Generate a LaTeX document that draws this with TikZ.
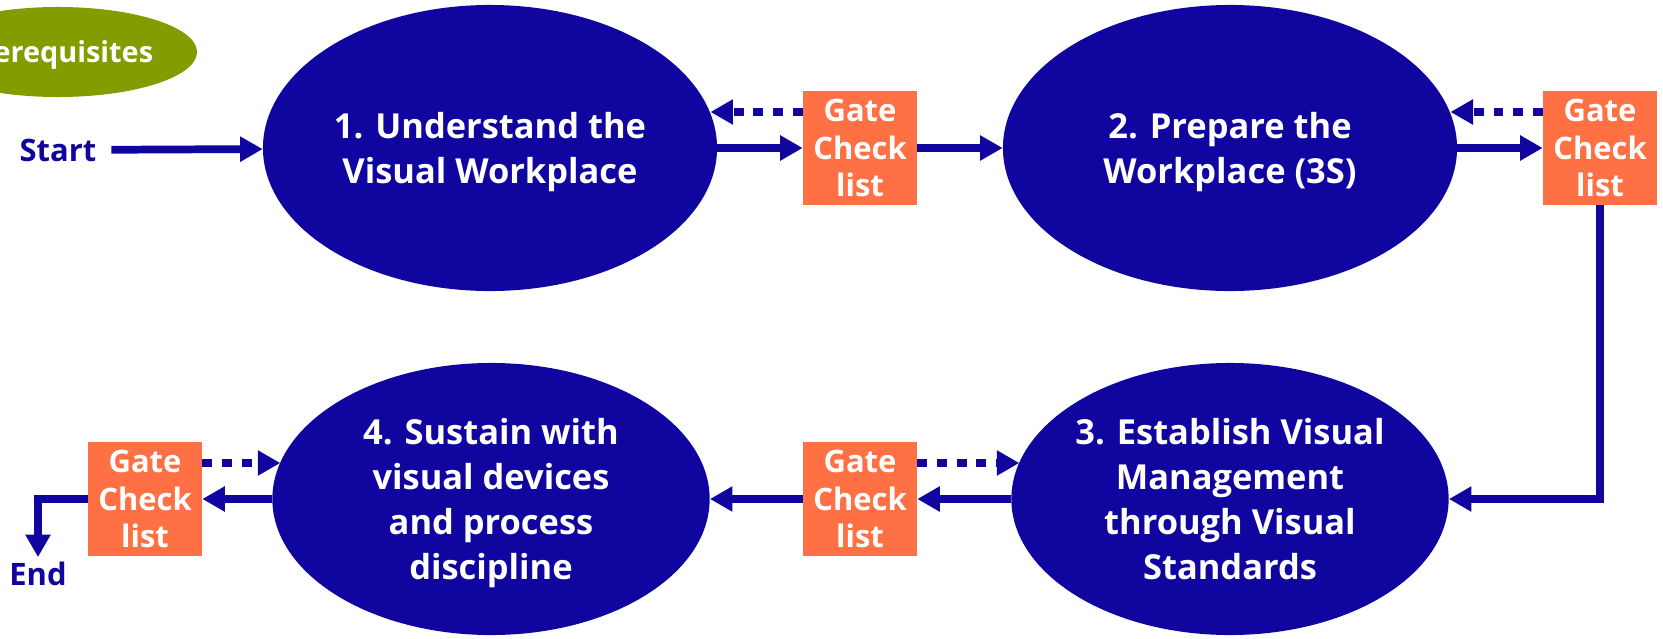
\documentclass[tikz,border=0pt]{standalone}
\usepackage{fontspec}
\setmainfont{Open Sans}
\usetikzlibrary{shapes.geometric,arrows.meta}
\definecolor{phaseblue}{HTML}{10069F}
\definecolor{gateorange}{HTML}{FF7145}
\definecolor{prereqgreen}{HTML}{849C00}
\begin{document}
\begin{tikzpicture}[x=0.025cm,y=-0.025cm,
    phase/.style={ellipse,fill=phaseblue,text=white,align=center,inner sep=0pt,text depth=0pt,
        font=\fontsize{24.5}{32}\selectfont\bfseries},
    gatebox/.style={rectangle,fill=gateorange,text=white,align=center,inner sep=0pt,
        minimum size=2.85cm,font=\fontsize{22}{26.5}\selectfont\bfseries},
    flow/.style={phaseblue,line width=5.5pt,-{Triangle[length=16pt,width=17pt]}},
    back/.style={flow,dash pattern=on 7pt off 7pt}]
        \useasboundingbox (0,0) rectangle (1663,638);
        %% Prerequisites
        \node[ellipse,fill=prereqgreen,text=white,inner sep=0pt,text depth=0pt,minimum width=6.95cm,minimum height=2.25cm,
            font=\fontsize{20.5}{24}\selectfont\bfseries] (P) at (58,52) {Prerequisites};
        %% Phases
        \node[phase,minimum width=11.35cm,minimum height=7.15cm] (E1) at (490,148) {1. Understand the\\Visual Workplace};
        \node[phase,minimum width=11.35cm,minimum height=7.15cm] (E2) at (1230,148) {2. Prepare the\\Workplace (3S)};
        \node[phase,minimum width=10.93cm,minimum height=6.8cm] (E3) at (1230,499) {3. Establish Visual\\Management\\through Visual\\Standards};
        \node[phase,minimum width=10.93cm,minimum height=6.8cm] (E4) at (491,499) {4. Sustain with\\visual devices\\and process\\discipline};
        %% Gate check lists
        \node[gatebox] (G1) at (860,148) {Gate\\Check\\list};
        \node[gatebox] (G2) at (1600,148) {Gate\\Check\\list};
        \node[gatebox] (G3) at (860,499) {Gate\\Check\\list};
        \node[gatebox] (G4) at (145,499) {Gate\\Check\\list};
        %% Start and end
        \node[text=phaseblue,font=\fontsize{22}{26}\selectfont\bfseries] (S) at (58,150) {Start};
        \node[text=phaseblue,font=\fontsize{22}{26}\selectfont\bfseries] (X) at (38,574) {End};
        %% Forward flow
        \draw[flow,shorten <=0.25cm] (S) -- (E1);
        \draw[flow] (E1) -- (G1);
        \draw[flow] (G1) -- (E2);
        \draw[flow] (E2) -- (G2);
        \draw[flow] (G2.south) |- (E3.east);
        \draw[flow] (E3) -- (G3);
        \draw[flow] (G3) -- (E4);
        \draw[flow] (E4) -- (G4);
        \draw[flow] (G4.west) -| (X);
        %% Way back
        \draw[back] ([yshift=0.9cm]G1.west) -- ([yshift=0.9cm]G1.west -| E1.9);
        \draw[back] ([yshift=0.9cm]G2.west) -- ([yshift=0.9cm]G2.west -| E2.9);
        \draw[back] ([yshift=0.9cm]G3.east) -- ([yshift=0.9cm]G3.east -| E3.170);
        \draw[back] ([yshift=0.9cm]G4.east) -- ([yshift=0.9cm]G4.east -| E4.170);
\end{tikzpicture}
\end{document}
